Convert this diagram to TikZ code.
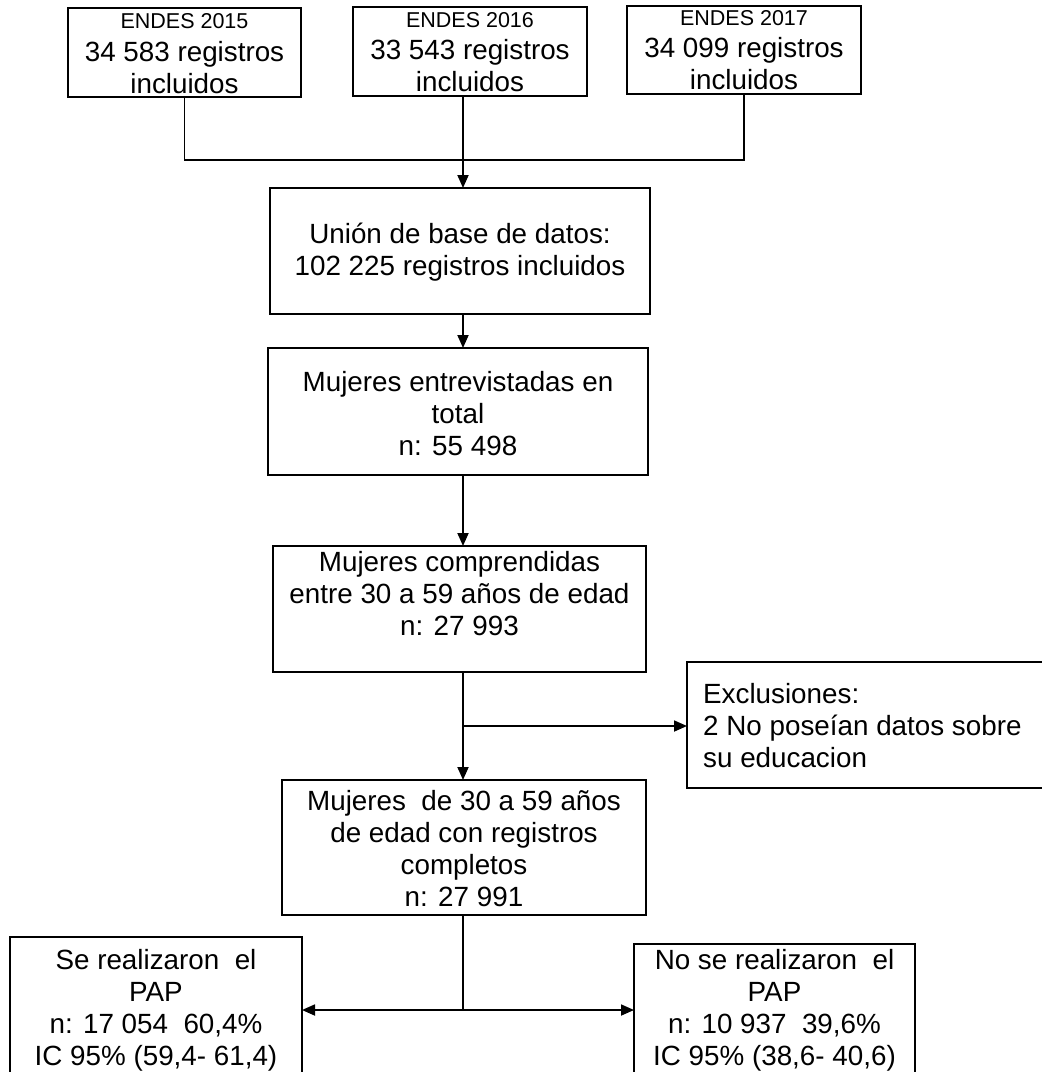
\documentclass[tikz,border=0pt]{standalone}
\usepackage{fontspec}
\setmainfont{Liberation Sans}
\usetikzlibrary{arrows.meta}
\begin{document}
\begin{tikzpicture}[x=1pt,y=-1pt,
  box/.style={draw, line width=1.8pt, inner sep=0pt, outer sep=0pt, rectangle},
  txt/.style={align=center, inner sep=0pt, font=\fontsize{27.8}{32}\selectfont},
  small/.style={inner sep=0pt, font=\fontsize{21.5}{24}\selectfont},
  line/.style={line width=1.8pt},
  arr/.style={line width=1.8pt, -{Triangle[length=13pt,width=11pt]}}]
\useasboundingbox (0,0) rectangle (1042,1072);
\clip (0,0) rectangle (1042,1072);
% top boxes
\node[box, minimum width=233pt, minimum height=89pt] (e15) at (184.5,52.5) {};
\node[small] (e15a) at (184.5,21) {ENDES 2015};
\node[txt] (e15b) at (184.5,68) {34 583 registros\\incluidos};
\node[box, minimum width=234pt, minimum height=89pt] (e16) at (470,51.5) {};
\node[small] (e16a) at (470,20) {ENDES 2016};
\node[txt] (e16b) at (470,66) {33 543 registros\\incluidos};
\node[box, minimum width=234pt, minimum height=88pt] (e17) at (744,50) {};
\node[small] (e17a) at (744,18) {ENDES 2017};
\node[txt] (e17b) at (744,64) {34 099 registros\\incluidos};
\coordinate (spine) at (463,0);
\coordinate (join) at (0,160);
% union
\node[box, minimum width=380pt, minimum height=126pt] (uni) at (460,251) {};
\node[txt] (unit) at (460,252) {Unión de base de datos:\\102 225 registros incluidos};
% entrevistadas
\node[box, minimum width=380pt, minimum height=127pt] (ent) at (458,411.5) {};
\node[txt] (entt) at (458,414) {Mujeres entrevistadas en\\total\\n: 55 498};
% comprendidas
\node[box, minimum width=373pt, minimum height=126pt] (com) at (459.5,609) {};
\node[txt] (comt) at (459.5,594) {Mujeres comprendidas\\entre 30 a 59 años de edad\\n: 27 993};
% exclusiones
\node[box, minimum width=360pt, minimum height=126pt] (exc) at (867,725) {};
\node[txt, align=left, anchor=west] (exct) at (703,726) {Exclusiones:\\2 No poseían datos sobre\\su educacion};
% completos
\node[box, minimum width=364pt, minimum height=135pt] (m30) at (464,847.5) {};
\node[txt] (m30t) at (464,849) {Mujeres\ \ de 30 a 59 años\\de edad con registros\\completos\\n: 27 991};
% bottom
\node[box, minimum width=292pt, minimum height=150pt] (si) at (156,1012) {};
\node[txt] (sit) at (156,1010) {Se realizaron\ \ el\\PAP\\n: 17 054\ \ 60,4\%\\IC 95\% (59,4- 61,4)};
\node[box, minimum width=281pt, minimum height=150pt] (no) at (774.5,1019) {};
\node[txt] (not) at (774.5,1010) {No se realizaron\ \ el\\PAP\\n: 10 937\ \ 39,6\%\\IC 95\% (38,6- 40,6)};
% connectors
\draw[line] (e15.south) -- (e15.south |- join) -- (e17.south |- join) -- (e17.south);
\draw[arr] (e16.south -| spine) -- (uni.north -| spine);
\draw[arr] (uni.south -| spine) -- (ent.north -| spine);
\draw[arr] (ent.south -| spine) -- (com.north -| spine);
\draw[arr] (com.south -| spine) -- (m30.north -| spine);
\draw[arr] (spine |- exct) -- (exc.west |- exct);
\coordinate (split) at (463,1010);
\draw[line] (m30.south -| spine) -- (split);
\draw[arr] (split) -- (si.east |- split);
\draw[arr] (split) -- (no.west |- split);
\end{tikzpicture}
\end{document}
